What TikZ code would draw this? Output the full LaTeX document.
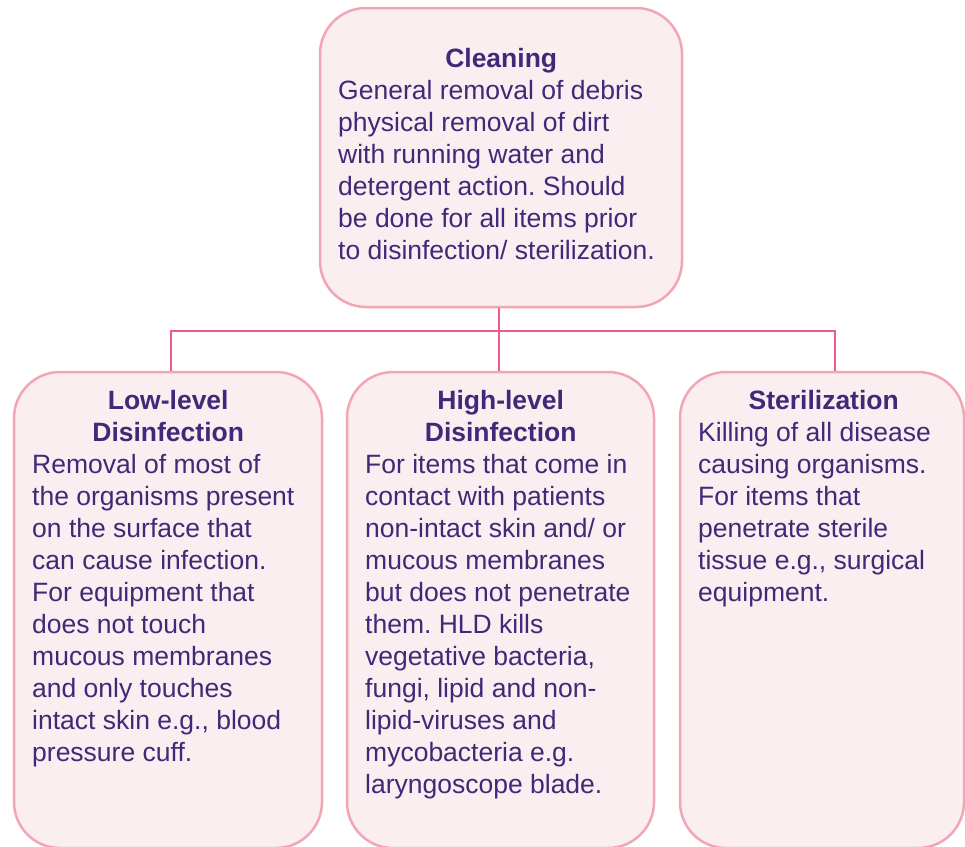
\documentclass[tikz,border=0pt]{standalone}
\usepackage{fontspec}
\setmainfont{Liberation Sans}
\definecolor{cardline}{HTML}{F2A6B4}
\definecolor{cardfill}{HTML}{FBEEF1}
\definecolor{linkpink}{HTML}{EC5C8D}
\definecolor{inkpurple}{HTML}{3E2A78}
\newcommand{\cardhead}[2]{\makebox[#1pt][c]{\bfseries #2}}
\tikzset{
  card/.style={draw=cardline,fill=cardfill,line width=2.5pt,rounded corners=46pt,
    rectangle,inner sep=0pt},
  % placed by the baseline of the last line
  cardtext/.style={anchor=base west,align=left,inner sep=0pt,text=inkpurple,
    font=\fontsize{26.5}{32}\selectfont\frenchspacing},
  link/.style={draw=linkpink,line width=2.5pt}
}
\begin{document}
\begin{tikzpicture}[x=1pt,y=-1pt]
        \useasboundingbox (0,0) rectangle (965,846);
        \clip (0,0) rectangle (965,846);
        \fill[white] (0,0) rectangle (965,846);
        % boxes
        \node[card,minimum width=362pt,minimum height=299pt] (clean) at (501,157.5) {};
        \node[card,minimum width=308pt,minimum height=476pt] (low) at (168,610) {};
        \node[card,minimum width=307pt,minimum height=476pt] (high) at (500.5,610) {};
        \node[card,minimum width=284pt,minimum height=476pt] (steril) at (822,610) {};
        % connectors
        \coordinate (hub) at (499,331);
        \draw[link] (clean.south -| hub) -- (hub);
        \foreach \n/\dx in {low/3,high/-1.5,steril/13}
            \draw[link] (hub) -| ([xshift=\dx pt]\n.north);
        % texts
        \node[cardtext] (cleantext) at (338,259) {\cardhead{326}{Cleaning}\\
            General removal of debris\\ physical removal of dirt\\
            with running water and\\ detergent action. Should\\
            be done for all items prior\\ to disinfection/ sterilization.};
        \node[cardtext] (lowtext) at (32,761) {\cardhead{272}{Low-level}\\
            \cardhead{272}{Disinfection}\\ Removal of most of\\
            the organisms present\\ on the surface that\\
            can cause infection.\\ For equipment that\\ does not touch\\
            mucous membranes\\ and only touches\\ intact skin e.g., blood\\
            pressure cuff.};
        \node[cardtext] (hightext) at (365,793) {\cardhead{271}{High-level}\\
            \cardhead{271}{Disinfection}\\ For items that come in\\
            contact with patients\\ non-intact skin and/ or\\
            mucous membranes\\ but does not penetrate\\ them. HLD kills\\
            vegetative bacteria,\\ fungi, lipid and non-\\ lipid-viruses and\\
            mycobacteria e.g.\\ laryngoscope blade.};
        \node[cardtext] (steriltext) at (698,601) {\cardhead{251}{Sterilization}\\
            Killing of all disease\\ causing organisms.\\ For items that\\
            penetrate sterile\\ tissue e.g., surgical\\ equipment.};
    \end{tikzpicture}
\end{document}
